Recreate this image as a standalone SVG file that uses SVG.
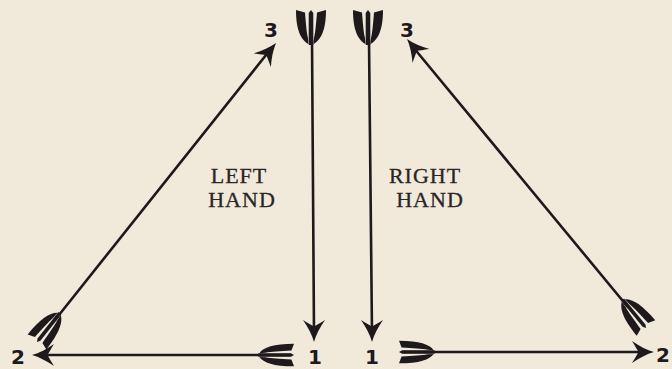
<svg xmlns="http://www.w3.org/2000/svg" xmlns:xlink="http://www.w3.org/1999/xlink" width="672" height="369" viewBox="0 0 672 369">
<style>
.shaft{stroke:#1e1a1c;stroke-width:2.6;fill:none;stroke-linecap:round}
.ink{fill:#1e1a1c}
.lbl{font-family:"Liberation Serif","DejaVu Serif",serif;font-size:22px;fill:#2a2527;stroke:#2a2527;stroke-width:0.3;letter-spacing:1px;text-anchor:middle}
.num{font-family:"DejaVu Sans","Liberation Sans",sans-serif;font-size:20px;font-weight:bold;fill:#1e1a1c;text-anchor:middle}
</style>
<defs>
<g id="fletch" class="ink">
<path d="M -15,0 L -6,2.5 C -5,14 -4.5,22 -3,28 L -2.5,34 C -10,30 -15,20 -15,0 Z"/>
<path d="M 15,0 L 6,2.5 C 5,14 4.5,22 3,28 L 2.5,34 C 10,30 15,20 15,0 Z"/>
<path d="M -2.3,35 L -2.3,3 L 0,0 L 2.3,3 L 2.3,35 Z"/>
</g>
<path id="head" class="ink" d="M 0,0 C -2,-7 -6,-15 -11,-22 C -6,-19 -2,-16.5 0,-15.5 C 2,-16.5 6,-19 11,-22 C 6,-15 2,-7 0,0 Z"/>
</defs>
<rect width="672" height="369" fill="#f1eadb"/>
<g id="connectors">
<path class="shaft" d="M312,40 L314,333"/>
<path class="shaft" d="M369,40 L372,333"/>
<path class="shaft" d="M290,355 L40,355"/>
<path class="shaft" d="M403,352 L645,352"/>
<path class="shaft" d="M55,320 L270,50"/>
<path class="shaft" d="M627,306 L413,47"/>
</g>
<g id="left-vertical-arrow">
<use xlink:href="#fletch" transform="translate(311,10)"/>
<use xlink:href="#head" transform="translate(314,342)"/>
<text class="num" x="315" y="364">1</text>
</g>
<g id="right-vertical-arrow">
<use xlink:href="#fletch" transform="translate(368,10)"/>
<use xlink:href="#head" transform="translate(372,342)"/>
<text class="num" x="372" y="364">1</text>
</g>
<g id="left-horizontal-arrow">
<use xlink:href="#fletch" transform="translate(294,355) rotate(90) scale(0.75,1.02)"/>
<use xlink:href="#head" transform="translate(32,355) rotate(90)"/>
<text class="num" x="18" y="364">2</text>
</g>
<g id="right-horizontal-arrow">
<use xlink:href="#fletch" transform="translate(399,352) rotate(-90) scale(0.75,1.02)"/>
<use xlink:href="#head" transform="translate(654,352) rotate(-90)"/>
<text class="num" x="663" y="362">2</text>
</g>
<g id="left-diagonal-arrow">
<use xlink:href="#fletch" transform="translate(37,342) rotate(-141.5) scale(0.8,1.05)"/>
<use xlink:href="#head" transform="translate(276,43) rotate(-141.5)"/>
<text class="num" x="271" y="37">3</text>
</g>
<g id="right-diagonal-arrow">
<use xlink:href="#fletch" transform="translate(646,328) rotate(140.5) scale(0.8,1.05)"/>
<use xlink:href="#head" transform="translate(407,39) rotate(140.5)"/>
<text class="num" x="407" y="37">3</text>
</g>
<g id="left-hand-label">
<text class="lbl" x="239" y="183">LEFT</text>
<text class="lbl" x="242" y="207">HAND</text>
</g>
<g id="right-hand-label">
<text class="lbl" x="425" y="183">RIGHT</text>
<text class="lbl" x="430" y="207">HAND</text>
</g>
</svg>
